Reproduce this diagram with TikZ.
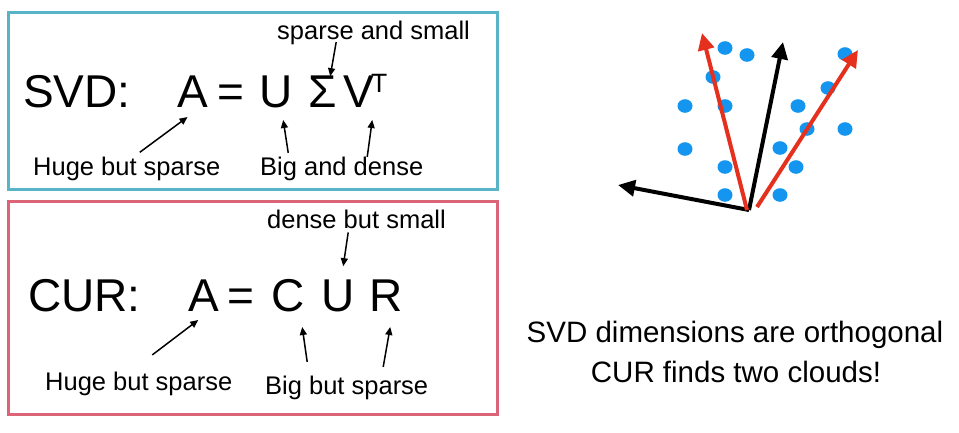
\documentclass[tikz,border=0pt]{standalone}
\usepackage{fontspec}
\setmainfont{Liberation Sans}
\usetikzlibrary{arrows.meta}
\definecolor{svdframe}{HTML}{5AB4C8}
\definecolor{curframe}{HTML}{DC6478}
\definecolor{cloud}{HTML}{1496F0}
\definecolor{curvec}{HTML}{E6301E}
\tikzset{
  eq/.style={inner sep=0pt, anchor=base west, font=\fontsize{46}{46}\selectfont},
  lbl/.style={inner sep=0pt, anchor=base west, font=\fontsize{25.5}{26}\selectfont},
  note/.style={inner sep=0pt, anchor=base, font=\fontsize{29.5}{30}\selectfont},
  ptr/.style={-{Triangle[length=8pt,width=7pt]}, line width=1.5pt},
  vec/.style={-{Triangle[length=17pt,width=16pt]}, line width=4pt},
}
\begin{document}
\begin{tikzpicture}[x=1pt, y=-1pt]
    \useasboundingbox (0, 0) rectangle (959, 432) ;
    \draw[svdframe, line width=3pt] (8.5, 12) rectangle (497, 189) ;
    \draw[curframe, line width=3pt] (8.5, 201) rectangle (497, 414) ;
    \node[eq] (svd) at (23, 107) {SVD:} ;
    \node[eq] (sA) at (177, 107) {A} ;
    \node[eq] (seq) at (217, 107) {=} ;
    \node[eq] (sU) at (259, 107) {U} ;
    \node[eq] (sS) at (308, 107) {Σ} ;
    \node[eq] (sV) at (343, 107) {V} ;
    \node[inner sep=0pt, anchor=base west, font=\fontsize{26.5}{27}\selectfont] (sT) at (371, 92) {T} ;
    \node[lbl] (small1) at (277, 39) {sparse and small} ;
    \node[lbl] (huge1) at (33, 175) {Huge but sparse} ;
    \node[lbl] (dense1) at (260, 175) {Big and dense} ;
    \draw[ptr] ([shift={(13, -4)}]huge1.north) -- ([shift={(-5, 10)}]sA.base) ;
    \draw[ptr] ([shift={(-53.5, -3.5)}]dense1.north) -- ([shift={(7.4, 13)}]sU.base) ;
    \draw[ptr] ([shift={(25.5, 0.6)}]dense1.north) -- ([shift={(13.7, 13)}]sV.base) ;
    \draw[ptr] ([shift={(-37.4, -2.4)}]small1.south) -- ([shift={(7.8, 1)}]sS.north) ;
    \node[eq] (cur) at (28, 311) {CUR:} ;
    \node[eq] (cA) at (188, 311) {A} ;
    \node[eq] (ceq) at (227.5, 311) {=} ;
    \node[eq] (cC) at (271, 311) {C} ;
    \node[eq] (cU) at (321.4, 311) {U} ;
    \node[eq] (cR) at (369, 311) {R} ;
    \node[lbl] (small2) at (267, 228) {dense but small} ;
    \node[lbl] (huge2) at (45, 390) {Huge but sparse} ;
    \node[lbl] (sparse2) at (265, 394) {Big but sparse} ;
    \draw[ptr] ([shift={(-8.3, 4)}]small2.south) -- ([shift={(5, -13)}]cU.north) ;
    \draw[ptr] ([shift={(13.5, -16.4)}]huge2.north) -- ([shift={(-5.3, 9)}]cA.base) ;
    \draw[ptr] ([shift={(-39.5, -13.4)}]sparse2.north) -- ([shift={(14.4, 16)}]cC.base) ;
    \draw[ptr] ([shift={(36.5, -8.4)}]sparse2.north) -- ([shift={(4.4, 16)}]cR.base) ;
    \fill[cloud] (725, 48) ellipse (7.5pt and 6.8pt) ;
    \fill[cloud] (747, 55) ellipse (7.5pt and 6.8pt) ;
    \fill[cloud] (713, 77) ellipse (7.5pt and 6.8pt) ;
    \fill[cloud] (685, 106) ellipse (7.5pt and 6.8pt) ;
    \fill[cloud] (725, 106) ellipse (7.5pt and 6.8pt) ;
    \fill[cloud] (685, 149) ellipse (7.5pt and 6.8pt) ;
    \fill[cloud] (725, 167) ellipse (7.5pt and 6.8pt) ;
    \fill[cloud] (725, 195) ellipse (7.5pt and 6.8pt) ;
    \fill[cloud] (845, 54) ellipse (7.5pt and 6.8pt) ;
    \fill[cloud] (828, 88) ellipse (7.5pt and 6.8pt) ;
    \fill[cloud] (798, 106) ellipse (7.5pt and 6.8pt) ;
    \fill[cloud] (807, 129) ellipse (7.5pt and 6.8pt) ;
    \fill[cloud] (845, 129) ellipse (7.5pt and 6.8pt) ;
    \fill[cloud] (780, 148) ellipse (7.5pt and 6.8pt) ;
    \fill[cloud] (796, 167) ellipse (7.5pt and 6.8pt) ;
    \fill[cloud] (780, 195) ellipse (7.5pt and 6.8pt) ;
    \coordinate (o) at (749, 210) ;
    \coordinate (svd1) at (783, 42) ;
    \coordinate (svd2) at (618, 185) ;
    \coordinate (cur1) at (702, 33) ;
    \coordinate (cur2) at (858, 50) ;
    \draw[vec, line cap=butt] (o) -- (svd1) ;
    \draw[vec, line cap=butt] (o) -- (svd2) ;
    \draw[vec, curvec] ([xshift=-2pt]o) -- (cur1) ;
    \draw[vec, curvec] ([shift={(8, -3)}]o) -- (cur2) ;
    \node[note] (note1) at (735, 342) {SVD dimensions are orthogonal} ;
    \node[note] (note2) at (736, 382) {CUR finds two clouds!} ;
  \end{tikzpicture}
\end{document}
